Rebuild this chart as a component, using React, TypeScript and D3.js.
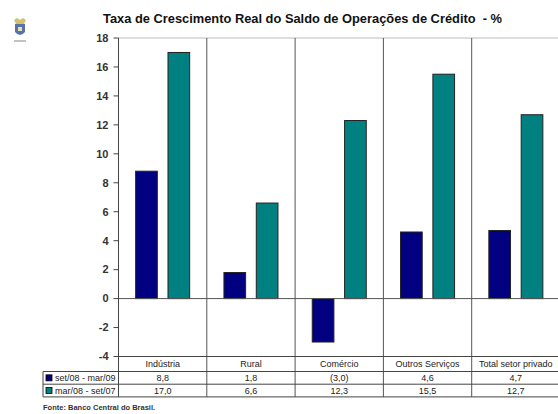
import { useMemo } from "react";
import * as d3 from "d3";

const WIDTH = 558;
const HEIGHT = 414;
const PLOT = { left: 118.5, top: 38, bottom: 356.5, step: 88.3 };
const HEAD_H = 15;
const ROW_H = 12.7;

const categories = ["Indústria", "Rural", "Comércio", "Outros Serviços", "Total setor privado"];
const seriesLabels = ["set/08 - mar/09", "mar/08 - set/07"];
const seriesA = [8.8, 1.8, -3.0, 4.6, 4.7];
const seriesB = [17.0, 6.6, 12.3, 15.5, 12.7];
const yTicks = [-4, -2, 0, 2, 4, 6, 8, 10, 12, 14, 16, 18];
const COLORS = ["#000080", "#008080"];

const fmt = (v: number) => {
  const s = Math.abs(v).toFixed(1).replace(".", ",");
  return v < 0 ? `(${s})` : s;
};

const App = () => {
  const allSeries = [seriesA, seriesB];

  const xScale = useMemo(
    () =>
      d3
        .scaleBand()
        .domain(categories)
        .range([PLOT.left, PLOT.left + PLOT.step * categories.length])
        .padding(0),
    []
  );
  const subScale = useMemo(
    () =>
      d3
        .scaleBand()
        .domain(["0", "1"])
        .range([0, xScale.bandwidth()])
        .paddingInner(0.33)
        .paddingOuter(0.53),
    [xScale]
  );
  const yScale = useMemo(
    () => d3.scaleLinear().domain([-4, 18]).range([PLOT.bottom, PLOT.top]),
    []
  );

  const right = PLOT.left + PLOT.step * categories.length;
  const rowTop = (r: number) => PLOT.bottom + HEAD_H + ROW_H * r;
  const tableBottom = rowTop(2);
  const legendLeft = 43;

  return (
    <svg width={WIDTH} height={HEIGHT} style={{ position: "absolute", left: 0, top: 0 }}>
      <rect width={WIDTH} height={HEIGHT} fill="#fff" />

      {/* little emblem top left */}
      <g transform="translate(10,18)">
        <path d="M4,2 L7,0 L10,2 L13,0 L16,2 L14,6 L6,6 Z" fill="#c8b24a" opacity={0.8} />
        <path d="M5,6 L15,6 L15,14 Q10,20 5,14 Z" fill="#3c5a9a" opacity={0.85} />
        <rect x={8} y={9} width={4} height={4} fill="#e8e0b0" />
        <rect x={4} y={22} width={12} height={2} fill="#999" opacity={0.6} />
      </g>

      <text
        x={103}
        y={23}
        fontFamily="Liberation Sans, Arial, sans-serif"
        fontWeight="bold"
        fontSize={12.5}
        fill="#111"
        textLength={399}
        lengthAdjust="spacingAndGlyphs"
        style={{ whiteSpace: "pre" }}
      >
        {"Taxa de Crescimento Real do Saldo de Operações de Crédito  - %"}
      </text>

      {/* plot top border */}
      <line x1={PLOT.left} x2={right} y1={PLOT.top} y2={PLOT.top} stroke="#bbb" />

      {/* bars */}
      {allSeries.map((vals, i) => (
        <g key={i}>
          {vals.map((v, j) => {
            const x = (xScale(categories[j]) ?? 0) + (subScale(String(i)) ?? 0);
            const y0 = yScale(Math.max(0, v));
            const y1 = yScale(Math.min(0, v));
            return (
              <rect
                key={j}
                x={x}
                y={y0}
                width={subScale.bandwidth()}
                height={y1 - y0}
                fill={COLORS[i]}
                stroke="#222"
                strokeWidth={1}
              />
            );
          })}
        </g>
      ))}

      {/* zero line */}
      <line x1={PLOT.left} x2={right} y1={yScale(0)} y2={yScale(0)} stroke="#555" />

      {/* category dividers through the table */}
      {categories.map((c) => {
        const x = (xScale(c) ?? 0) + xScale.bandwidth();
        return <line key={c} x1={x} x2={x} y1={PLOT.top} y2={tableBottom} stroke="#555" />;
      })}

      {/* y axis */}
      <line x1={PLOT.left} x2={PLOT.left} y1={PLOT.top} y2={tableBottom} stroke="#444" />
      {yTicks.map((t) => (
        <g key={t}>
          <line x1={PLOT.left - 5} x2={PLOT.left} y1={yScale(t)} y2={yScale(t)} stroke="#444" />
          <text
            x={PLOT.left - 10}
            y={yScale(t)}
            dy="0.35em"
            textAnchor="end"
            fontFamily="Liberation Sans, Arial, sans-serif"
            fontSize={11}
            fontWeight="bold"
            fill="#333"
          >
            {t}
          </text>
        </g>
      ))}

      {/* table */}
      <line x1={PLOT.left} x2={right} y1={PLOT.bottom} y2={PLOT.bottom} stroke="#444" />
      {[0, 1, 2].map((r) => (
        <line key={r} x1={legendLeft} x2={right} y1={rowTop(r)} y2={rowTop(r)} stroke="#444" />
      ))}
      <line x1={legendLeft} x2={legendLeft} y1={rowTop(0)} y2={tableBottom} stroke="#444" />
      {categories.map((c) => (
        <text
          key={c}
          x={(xScale(c) ?? 0) + xScale.bandwidth() / 2}
          y={PLOT.bottom + HEAD_H / 2}
          dy="0.35em"
          textAnchor="middle"
          fontFamily="Liberation Sans, Arial, sans-serif"
          fontSize={9}
          fill="#222"
        >
          {c}
        </text>
      ))}
      {allSeries.map((vals, i) => {
        const yMid = rowTop(i) + ROW_H / 2;
        return (
          <g key={i}>
            <rect
              x={legendLeft + 3}
              y={yMid - 3}
              width={6}
              height={6}
              fill={COLORS[i]}
              stroke="#000"
              strokeWidth={0.8}
            />
            <text
              x={legendLeft + 12}
              y={yMid}
              dy="0.35em"
              fontFamily="Liberation Sans, Arial, sans-serif"
              fontSize={9}
              fill="#222"
            >
              {seriesLabels[i]}
            </text>
            {vals.map((v, j) => (
              <text
                key={j}
                x={(xScale(categories[j]) ?? 0) + xScale.bandwidth() / 2}
                y={yMid}
                dy="0.35em"
                textAnchor="middle"
                fontFamily="Liberation Sans, Arial, sans-serif"
                fontSize={9}
                fill="#222"
              >
                {fmt(v)}
              </text>
            ))}
          </g>
        );
      })}

      <text
        x={43}
        y={410}
        fontFamily="Liberation Sans, Arial, sans-serif"
        fontSize={7.5}
        fontWeight="bold"
        fill="#333"
      >
        Fonte: Banco Central do Brasil.
      </text>
    </svg>
  );
};

export default App;
